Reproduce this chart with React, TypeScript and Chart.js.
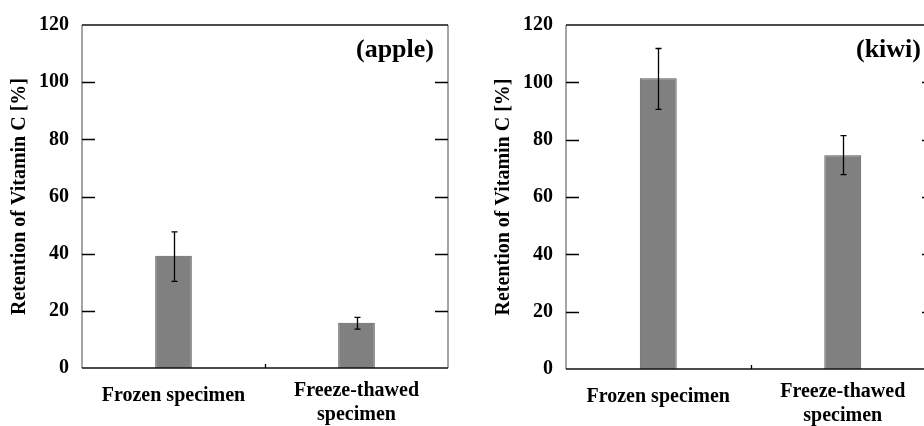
import React, { useEffect, useRef } from "react";
import { Chart, registerables } from "chart.js";

Chart.register(...registerables);

const categories: string[][] = [["Frozen specimen"], ["Freeze-thawed", "specimen"]];
const yTicks = [0, 20, 40, 60, 80, 100, 120];

const appleValues = [39.3, 15.8];
const appleErrLow = [30.3, 13.6];
const appleErrHigh = [47.6, 17.7];

const kiwiValues = [101.4, 74.6];
const kiwiErrLow = [90.6, 67.8];
const kiwiErrHigh = [111.8, 81.4];

const yTitle = "Retention of Vitamin C [%]";
const FONT = "'Liberation Serif', 'Times New Roman', serif";

type PanelProps = {
  label: string;
  values: number[];
  low: number[];
  high: number[];
  left: number;
  top: number;
  width: number;
  padTop: number;
  padRight: number;
  plotBottom: number;
};

function Panel(p: PanelProps) {
  const ref = useRef<HTMLCanvasElement | null>(null);
  useEffect(() => {
    if (!ref.current) return;
    const H = 426;
    const framePlugin = {
      id: "frame",
      afterDatasetsDraw(chart: any) {
        const { ctx, chartArea: a, scales } = chart;
        const y = scales.y;
        const x = scales.x;
        ctx.save();
        // error bars
        ctx.strokeStyle = "#000";
        ctx.lineWidth = 1.3;
        p.values.forEach((_v, i) => {
          const px = Math.round(x.getPixelForValue(i)) + 0.5;
          const yl = y.getPixelForValue(p.low[i]);
          const yh = y.getPixelForValue(p.high[i]);
          ctx.beginPath();
          ctx.moveTo(px, yl);
          ctx.lineTo(px, yh);
          ctx.moveTo(px - 3, yl);
          ctx.lineTo(px + 3, yl);
          ctx.moveTo(px - 3, yh);
          ctx.lineTo(px + 3, yh);
          ctx.stroke();
        });
        // frame
        ctx.lineWidth = 1.5;
        ctx.strokeStyle = "#888";
        ctx.beginPath();
        ctx.moveTo(a.left, a.top);
        ctx.lineTo(a.left, a.bottom);
        ctx.moveTo(a.right, a.top);
        ctx.lineTo(a.right, a.bottom);
        ctx.stroke();
        ctx.strokeStyle = "#111";
        ctx.beginPath();
        ctx.moveTo(a.left, a.top);
        ctx.lineTo(a.right, a.top);
        ctx.moveTo(a.left, a.bottom);
        ctx.lineTo(a.right, a.bottom);
        ctx.stroke();
        // inward ticks
        ctx.lineWidth = 1.3;
        ctx.strokeStyle = "#000";
        ctx.beginPath();
        yTicks.forEach((t) => {
          if (t === 0 || t === 120) return;
          const py = Math.round(y.getPixelForValue(t)) + 0.5;
          ctx.moveTo(a.left, py);
          ctx.lineTo(a.left + 13, py);
          ctx.moveTo(a.right, py);
          ctx.lineTo(a.right - 13, py);
        });
        const mid = (x.getPixelForValue(0) + x.getPixelForValue(1)) / 2;
        ctx.moveTo(Math.round(mid) + 0.5, a.bottom);
        ctx.lineTo(Math.round(mid) + 0.5, a.bottom - 4);
        ctx.stroke();
        // x labels
        ctx.fillStyle = "#000";
        ctx.font = `bold 20px ${FONT}`;
        ctx.textAlign = "center";
        ctx.textBaseline = "middle";
        categories.forEach((lines, i) => {
          const px = x.getPixelForValue(i);
          const y0 = a.bottom + 28 - 5 * (lines.length - 1);
          lines.forEach((ln, j) => ctx.fillText(ln, px, y0 + j * 24));
        });
        // panel label
        ctx.font = `bold 26px ${FONT}`;
        ctx.textAlign = "right";
        ctx.fillText(p.label, a.right - 14, a.top + 25);
        ctx.restore();
      },
    };
    const chart = new Chart(ref.current, {
      type: "bar",
      data: {
        labels: categories.map((c) => c.join(" ")),
        datasets: [
          {
            data: p.values,
            backgroundColor: "#808080",
            borderColor: "#5a5a5a",
            borderWidth: 1,
            barPercentage: 0.2,
            categoryPercentage: 1,
          },
        ],
      },
      options: {
        animation: false,
        responsive: false,
        maintainAspectRatio: false,
        layout: { padding: { left: 0, top: p.padTop, right: p.padRight, bottom: 0 } },
        plugins: { legend: { display: false }, tooltip: { enabled: false } },
        scales: {
          x: {
            grid: { display: false, drawTicks: false },
            border: { display: false },
            ticks: { display: false },
            afterFit: (s: any) => {
              s.height = H - p.plotBottom;
            },
          },
          y: {
            min: 0,
            max: 120,
            grid: { display: false, drawTicks: false },
            border: { display: false },
            ticks: {
              stepSize: 20,
              padding: 13,
              color: "#000",
              font: { family: FONT, size: 20, weight: "bold" },
            },
            title: {
              display: true,
              text: yTitle,
              color: "#000",
              font: { family: FONT, size: 20, weight: "bold" },
              padding: { top: 8, bottom: 0 },
            },
            afterFit: (s: any) => {
              s.width = 82;
            },
          },
        },
      },
      plugins: [framePlugin],
    });
    return () => chart.destroy();
  }, []);
  return (
    <canvas
      ref={ref}
      width={p.width}
      height={426}
      style={{ position: "absolute", left: p.left, top: p.top, width: p.width, height: 426 }}
    />
  );
}

export default function App() {
  return (
    <div
      style={{
        position: "fixed",
        left: 0,
        top: 0,
        width: 924,
        height: 426,
        overflow: "hidden",
        background: "#fff",
      }}
    >
      <Panel label="(apple)" values={appleValues} low={appleErrLow} high={appleErrHigh}
        left={0} top={0} width={460} padTop={17} padRight={12} plotBottom={368} />
      <Panel label="(kiwi)" values={kiwiValues} low={kiwiErrLow} high={kiwiErrHigh}
        left={484} top={0} width={466} padTop={18} padRight={15} plotBottom={369} />
    </div>
  );
}
